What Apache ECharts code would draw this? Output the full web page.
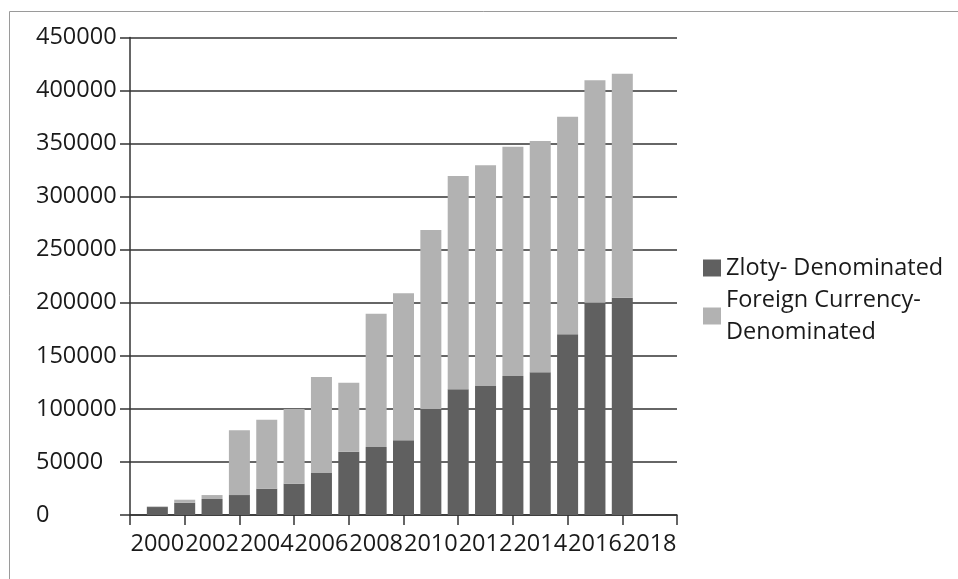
<!DOCTYPE html>
<html>
<head>
<meta charset="utf-8">
<script src="https://cdn.jsdelivr.net/npm/echarts@6/dist/echarts.min.js"></script>
<style>
  html, body { margin: 0; padding: 0; background: #fff; }
  #chart { width: 958px; height: 579px; }
</style>
</head>
<body>
<div id="chart"></div>
<script>
// Housing loans by currency of denomination (stacked)
const years = [2000, 2001, 2002, 2003, 2004, 2005, 2006, 2007, 2008, 2009,
               2010, 2011, 2012, 2013, 2014, 2015, 2016, 2017];
const zlotyDenominated = [7500, 11600, 15100, 18800, 24800, 29500, 39600, 59700, 64100, 70400,
                          100000, 118500, 121600, 131000, 134500, 170300, 200100, 204800];
const foreignDenominated = [600, 2800, 3700, 61000, 65000, 70500, 90500, 65000, 125500, 138500,
                            168500, 201000, 208000, 216000, 218000, 205000, 209500, 211000];
const yTicks = [0, 50000, 100000, 150000, 200000, 250000, 300000, 350000, 400000, 450000];
const axisFirstYear = 1999;
const axisLastYear = 2019;

// Category axis spans 1999..2019; ticks fall on odd years, labels on even years
const categories = [];
for (let y = axisFirstYear; y <= axisLastYear; y++) categories.push(String(y));
const pad = (arr) => categories.map(c => {
  const i = years.indexOf(Number(c));
  return i >= 0 ? arr[i] : '-';
});

const FONT = '"Open Sans", "Noto Sans", sans-serif';
const FONT_SIZE = 23.5;
const DARK = '#606060';
const LIGHT = '#b2b2b2';
const AXIS = '#333333';
const TEXT = '#1a1a1a';

const chart = echarts.init(document.getElementById('chart'), null, { renderer: 'canvas' });
chart.setOption({
  animation: false,
  backgroundColor: '#ffffff',
  textStyle: { fontFamily: FONT },
  grid: { left: 130, right: 281, top: 37.5, bottom: 64, containLabel: false },
  legend: {
    orient: 'vertical',
    left: 703,
    top: 252,
    padding: 0,
    itemGap: 0,
    itemWidth: 18,
    itemHeight: 17,
    icon: 'rect',
    selectedMode: false,
    formatter: (name) => name === 'Foreign Currency-Denominated'
      ? 'Foreign Currency-\nDenominated' : name,
    textStyle: { fontFamily: FONT, fontSize: FONT_SIZE, color: TEXT, lineHeight: 32, padding: [0, 0, 0, 0] },
    data: ['Zloty- Denominated', 'Foreign Currency-Denominated']
  },
  xAxis: {
    type: 'category',
    data: categories,
    boundaryGap: false,
    axisLine: { lineStyle: { color: AXIS, width: 1.5 } },
    axisTick: {
      length: 10,
      lineStyle: { color: AXIS, width: 1.5 },
      interval: (idx, val) => Number(val) % 2 === 1
    },
    axisLabel: {
      interval: (idx, val) => Number(val) % 2 === 0,
      fontFamily: FONT, fontSize: FONT_SIZE, color: TEXT, margin: 17
    },
    splitLine: { show: false }
  },
  yAxis: {
    type: 'value',
    min: yTicks[0],
    max: yTicks[yTicks.length - 1],
    interval: yTicks[1] - yTicks[0],
    axisLine: { show: true, lineStyle: { color: AXIS, width: 1.5 } },
    axisTick: { show: true, length: 10, lineStyle: { color: AXIS, width: 1.5 } },
    axisLabel: {
      align: 'left', margin: 94,
      formatter: (v) => String(v),
      fontFamily: FONT, fontSize: FONT_SIZE, color: TEXT
    },
    splitLine: { show: true, lineStyle: { color: AXIS, width: 1.5 } }
  },
  series: [
    {
      name: 'Zloty- Denominated',
      type: 'bar',
      stack: 'loans',
      barWidth: 21,
      itemStyle: { color: DARK },
      data: pad(zlotyDenominated)
    },
    {
      name: 'Foreign Currency-Denominated',
      type: 'bar',
      stack: 'loans',
      barWidth: 21,
      itemStyle: { color: LIGHT },
      data: pad(foreignDenominated)
    }
  ],
  graphic: [
    { type: 'line', silent: true, shape: { x1: 9.5, y1: 11.5, x2: 958, y2: 11.5 },
      style: { stroke: '#9a9a9a', lineWidth: 1 } },
    { type: 'line', silent: true, shape: { x1: 9.5, y1: 11.5, x2: 9.5, y2: 579 },
      style: { stroke: '#9a9a9a', lineWidth: 1 } }
  ]
});
</script>
</body>
</html>
